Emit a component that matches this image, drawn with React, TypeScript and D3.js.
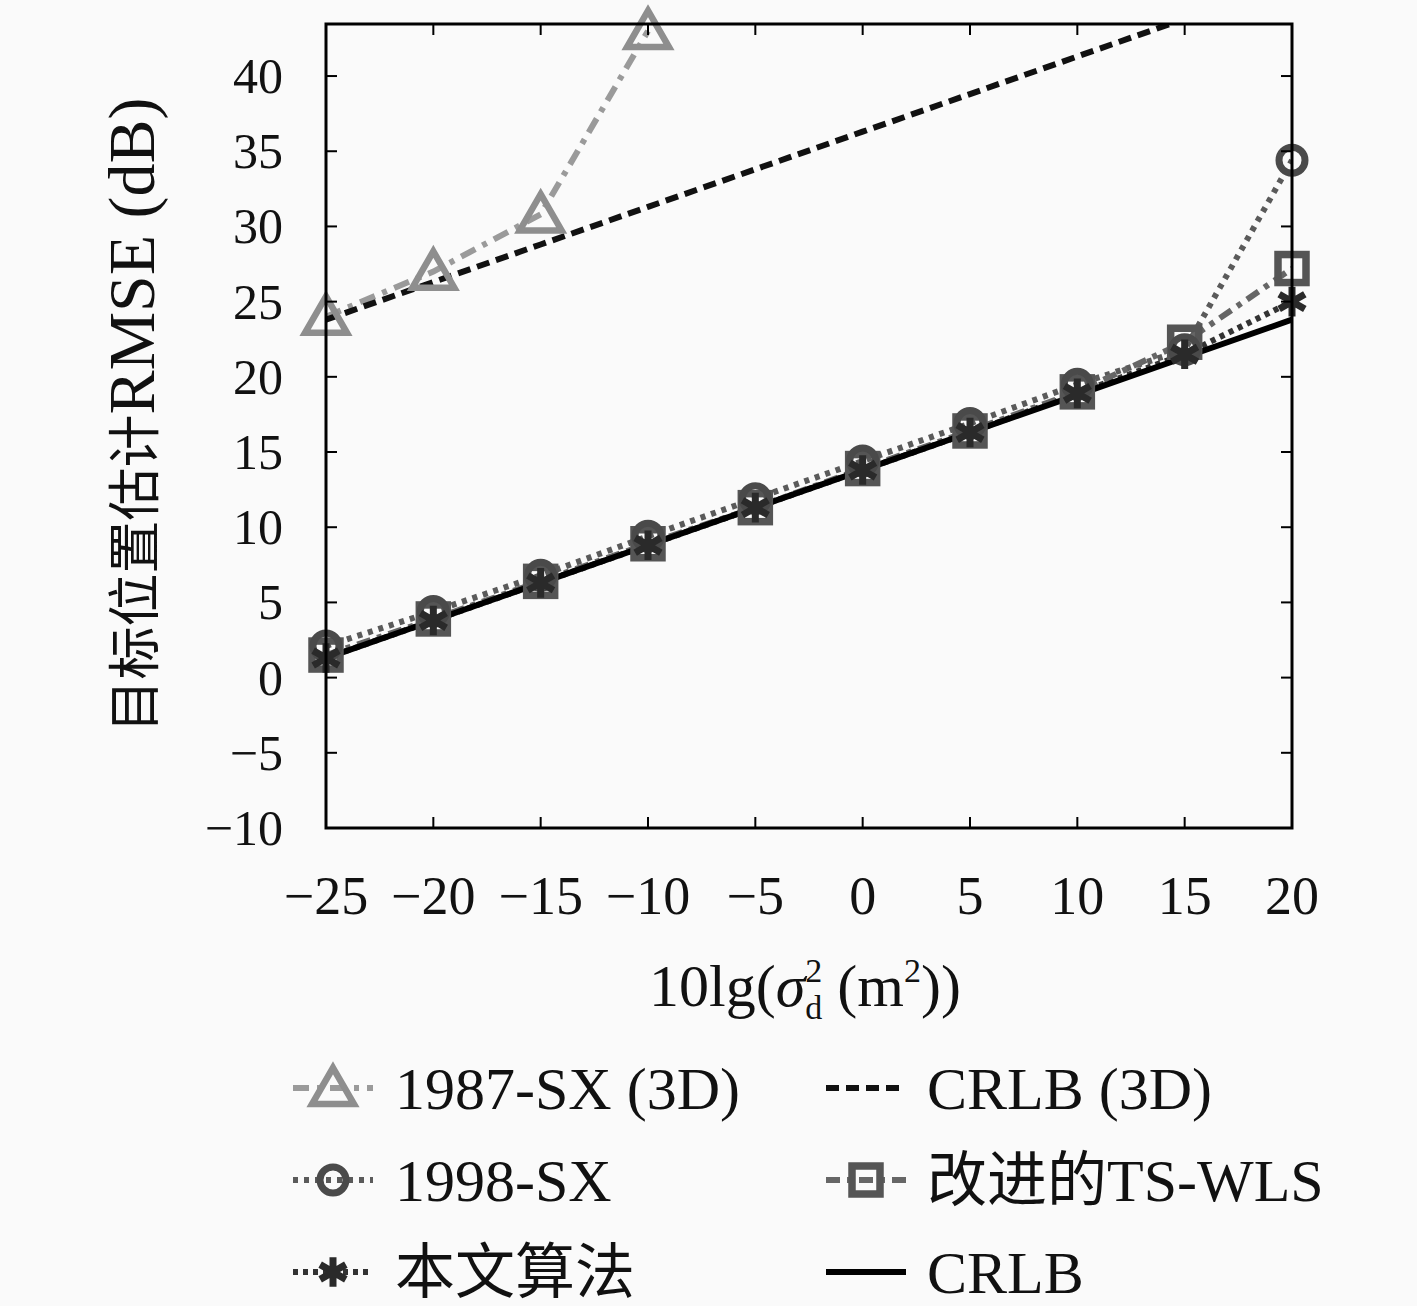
import * as d3 from 'd3';

const xValues = [-25, -20, -15, -10, -5, 0, 5, 10, 15, 20];
const sx1987 = [24.0, 27.0, 30.8, 43.0];
const crlb3d = [23.8, 26.3, 28.8, 31.3, 33.8, 36.3, 38.8, 41.3, 43.8, 46.3];
const sx1998 = [2.1, 4.4, 6.8, 9.4, 11.9, 14.4, 16.9, 19.5, 21.8, 34.4];
const tsWls = [1.5, 3.9, 6.4, 8.9, 11.3, 13.9, 16.4, 19.0, 22.3, 27.2];
const proposed = [1.3, 3.8, 6.3, 8.8, 11.3, 13.8, 16.3, 18.9, 21.5, 25.0];
const crlb = [1.3, 3.8, 6.3, 8.8, 11.3, 13.8, 16.3, 18.8, 21.3, 23.8];

const xTicks = [-25, -20, -15, -10, -5, 0, 5, 10, 15, 20];
const yTicks = [-10, -5, 0, 5, 10, 15, 20, 25, 30, 35, 40];

const W = 1417, H = 1306;
const M = { l: 326, r: 1292, t: 24, b: 828 };
const LAT = '"Liberation Serif", "DejaVu Serif", serif';
const CJK = '"Noto Sans CJK SC", sans-serif';

type Series = {
  name: string; cjk?: boolean; values: number[]; color: string; dash: string;
  marker: 'triangle' | 'circle' | 'square' | 'asterisk' | null; markerColor: string;
};

const series: Series[] = [
  { name: '1987-SX (3D)', values: sx1987, color: '#9a9a9a', dash: '16 8 5 8', marker: 'triangle', markerColor: '#8e8e8e' },
  { name: '1998-SX', values: sx1998, color: '#5a5a5a', dash: '5 6', marker: 'circle', markerColor: '#4a4a4a' },
  { name: '本文算法', cjk: true, values: proposed, color: '#333333', dash: '5 5', marker: 'asterisk', markerColor: '#2a2a2a' },
  { name: 'CRLB (3D)', values: crlb3d, color: '#111111', dash: '13 7', marker: null, markerColor: '#111' },
  { name: '改进的TS-WLS', cjk: true, values: tsWls, color: '#666666', dash: '14 7 5 7', marker: 'square', markerColor: '#555555' },
  { name: 'CRLB', values: crlb, color: '#000000', dash: '', marker: null, markerColor: '#000' },
];

// squares sit underneath the circles in the original
const markerOrder = [4, 0, 1, 2];

function Marker({ type, color, x, y }: { type: Series['marker']; color: string; x: number; y: number }) {
  if (!type) return null;
  if (type === 'triangle') {
    const p = d3.symbol().type(d3.symbolTriangle).size(760)();
    return <path d={p ?? ''} transform={`translate(${x},${y + 4})`} fill="none" stroke={color} strokeWidth={6.5} />;
  }
  if (type === 'circle') {
    return <circle cx={x} cy={y} r={13} fill="none" stroke={color} strokeWidth={7} />;
  }
  if (type === 'square') {
    return <rect x={x - 14} y={y - 14} width={28} height={28} fill="none" stroke={color} strokeWidth={7.5} />;
  }
  const p = d3.symbol().type(d3.symbolAsterisk).size(620)();
  return <path d={p ?? ''} transform={`translate(${x},${y})`} fill="none" stroke={color} strokeWidth={7} />;
}

export default function App() {
  const x = d3.scaleLinear().domain([-25, 20]).range([M.l, M.r]);
  const y = d3.scaleLinear().domain([-10, 43.46]).range([M.b, M.t]);
  const line = d3.line<number>().x((_, i) => x(xValues[i])).y(d => y(d));

  const legendRows = [1088, 1180, 1272];
  const legendCols = [{ sx: 293, tx: 395 }, { sx: 826, tx: 927 }];

  return (
    <svg width={W} height={H} style={{ position: 'absolute', left: 0, top: 0, background: '#fafafa' }}>
      <defs>
        <clipPath id="plotClip">
          <rect x={M.l} y={M.t} width={M.r - M.l} height={M.b - M.t} />
        </clipPath>
      </defs>
      <rect x={0} y={0} width={W} height={H} fill="#fafafa" />

      {/* lines */}
      <g clipPath="url(#plotClip)">
        {series.map(s => (
          <path key={s.name} d={line(s.values) ?? ''} fill="none" stroke={s.color}
            strokeWidth={6} strokeDasharray={s.dash || undefined} />
        ))}
      </g>

      {/* markers */}
      {markerOrder.map(si => {
        const s = series[si];
        return s.values.map((v, i) => (
          <Marker key={s.name + i} type={s.marker} color={s.markerColor} x={x(xValues[i])} y={y(v)} />
        ));
      })}

      {/* frame and ticks */}
      <rect x={M.l} y={M.t} width={M.r - M.l} height={M.b - M.t} fill="none" stroke="#000" strokeWidth={3} />
      {xTicks.map(t => (
        <g key={'x' + t}>
          <line x1={x(t)} x2={x(t)} y1={M.b} y2={M.b - 11} stroke="#000" strokeWidth={2} />
          <line x1={x(t)} x2={x(t)} y1={M.t} y2={M.t + 11} stroke="#000" strokeWidth={2} />
          <text x={x(t)} y={914} textAnchor="middle" fontFamily={LAT} fontSize={54} fill="#111">
            {t < 0 ? `\u2212${-t}` : t}
          </text>
        </g>
      ))}
      {yTicks.map(t => (
        <g key={'y' + t}>
          <line x1={M.l} x2={M.l + 11} y1={y(t)} y2={y(t)} stroke="#000" strokeWidth={2} />
          <line x1={M.r} x2={M.r - 11} y1={y(t)} y2={y(t)} stroke="#000" strokeWidth={2} />
          <text x={283} y={y(t)} dy="0.34em" textAnchor="end" fontFamily={LAT} fontSize={50} fill="#111">
            {t < 0 ? `\u2212${-t}` : t}
          </text>
        </g>
      ))}

      {/* axis titles */}
      <text x={805} y={1006} textAnchor="middle" fontFamily={LAT} fontSize={60} fill="#111">
        10lg(<tspan fontStyle="italic">σ</tspan>
        <tspan fontSize={34} dy={-24}>2</tspan>
        <tspan fontSize={34} dx={-17} dy={37}>d</tspan>
        <tspan dy={-13}> (m</tspan>
        <tspan fontSize={34} dy={-24}>2</tspan>
        <tspan dy={24}>))</tspan>
      </text>
      <text transform="translate(154,415) rotate(-90)" textAnchor="middle" fill="#111">
        <tspan fontFamily={CJK} fontSize={53}>目标位置估计</tspan>
        <tspan fontFamily={LAT} fontSize={66}>RMSE (dB)</tspan>
      </text>

      {/* legend */}
      {[[0, 1, 2], [3, 4, 5]].map((col, ci) => col.map((si, ri) => {
        const s = series[si];
        const cy = legendRows[ri];
        const { sx, tx } = legendCols[ci];
        return (
          <g key={'lg' + si}>
            <line x1={sx} x2={sx + 80} y1={cy} y2={cy} stroke={s.color} strokeWidth={6}
              strokeDasharray={s.dash || undefined} />
            <Marker type={s.marker} color={s.markerColor} x={sx + 40} y={cy} />
            <text x={tx} y={cy + 21} fontFamily={s.cjk ? `${LAT}, ${CJK}` : LAT} fontSize={60} fill="#111">
              {s.name}
            </text>
          </g>
        );
      }))}
    </svg>
  );
}
